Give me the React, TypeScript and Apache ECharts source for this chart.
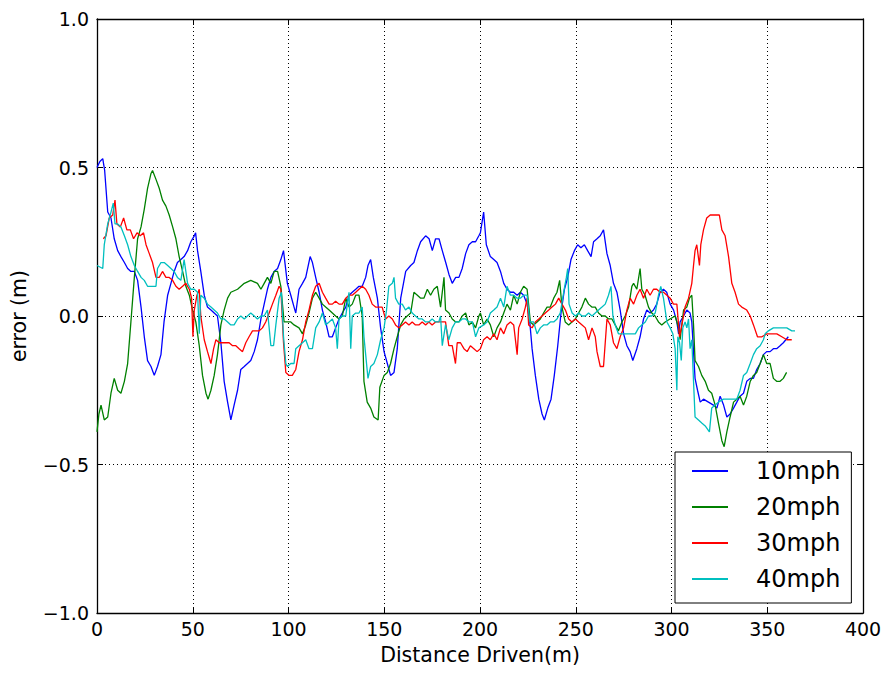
import React, { useEffect, useRef } from "react";
import * as echarts from "echarts";

const FONT = "'DejaVu Sans', sans-serif";

const xTicks = { min: 0, max: 400, interval: 50 };
const yTicks = { min: -1, max: 1, interval: 0.5 };
const seriesNames = ["10mph", "20mph", "30mph", "40mph"];
const seriesColors = ["#0000ff", "#008000", "#ff0000", "#00bfbf"];

const mph10: number[][] = [
  [0, 0.5], [1.5, 0.52], [3, 0.53], [4, 0.49], [5.6, 0.35], [7.3, 0.33], [9, 0.26], [10.8, 0.22], [12.5, 0.2], [14.3, 0.18],
  [16, 0.16], [17.7, 0.15], [19.5, 0.15], [21.2, 0.12], [23, 0.03], [24.7, -0.07], [26.4, -0.15], [28.2, -0.17], [29.9, -0.2],
  [31.6, -0.17], [33.4, -0.13], [35, -0.02], [36.9, 0.07], [38.6, 0.11], [40.3, 0.15], [42, 0.18], [43.8, 0.19], [45.5, 0.2],
  [47.3, 0.22], [49, 0.25], [50.8, 0.27], [51.5, 0.28], [52.5, 0.22], [54.2, 0.15], [56, 0.07], [57.7, 0.03], [59.5, 0.02],
  [61.2, 0.01], [62.9, 0], [64.7, -0.09], [66.4, -0.22], [68.2, -0.29], [69.9, -0.35], [71.6, -0.3], [73.4, -0.25], [75.1, -0.18],
  [76.9, -0.17], [78.6, -0.16], [80.3, -0.15], [82.1, -0.12], [83.8, -0.08], [85.6, -0.01], [87.3, 0.04], [89, 0.09], [90.8, 0.13],
  [92.5, 0.15], [94.3, 0.16], [96, 0.19], [97.4, 0.22], [99.4, 0.11], [101.2, 0.07], [102.9, 0.03], [103.8, 0.01], [105.5, 0.09],
  [107.3, 0.11], [109, 0.13], [111.3, 0.2], [112.5, 0.18], [114.2, 0.13], [116, 0.08], [117.7, 0.02], [119.4, -0.02], [121.2, -0.07],
  [122.9, -0.07], [124.6, -0.04], [126.4, -0.01], [128.1, 0.01], [129.9, 0.03], [131.6, 0.07], [133.3, 0.08], [135.1, 0.09],
  [136.8, 0.1], [138.5, 0.1], [140.3, 0.13], [141.5, 0.17], [142.9, 0.19], [144.3, 0.13], [146.4, 0.06], [148.1, -0.04],
  [149.9, -0.12], [151.6, -0.16], [153.3, -0.2], [155.1, -0.19], [156.8, -0.11], [158.6, 0.06], [161.2, 0.15], [163.8, 0.17],
  [165.5, 0.18], [167.3, 0.22], [169, 0.25], [171.6, 0.27], [173.4, 0.26], [175.1, 0.22], [176.8, 0.26], [178.6, 0.26],
  [180.3, 0.22], [182.1, 0.18], [183.8, 0.14], [185.5, 0.11], [187.3, 0.13], [189, 0.13], [190.7, 0.16], [192.5, 0.21],
  [194.2, 0.24], [196, 0.25], [197.7, 0.25], [199.4, 0.27], [200.2, 0.28], [201.9, 0.35], [203.3, 0.24], [205.4, 0.2],
  [207.2, 0.19], [208.9, 0.18], [210.7, 0.15], [212.4, 0.11], [214.1, 0.09], [215.9, 0.08], [217.6, 0.08], [219.4, 0.07],
  [221.1, 0.08], [222.8, 0.07], [224.6, 0.04], [226, -0.02], [227.2, -0.11], [228.9, -0.2], [230.7, -0.28], [232.4, -0.33],
  [233.6, -0.35], [235.4, -0.31], [237.1, -0.28], [238.8, -0.2], [240.6, -0.1], [242.3, 0.01], [244.1, 0.09], [245.8, 0.13],
  [247.5, 0.19], [249.3, 0.22], [251, 0.24], [252.7, 0.23], [254.5, 0.24], [256.2, 0.22], [258, 0.2], [259.3, 0.25], [261.1, 0.26],
  [262.8, 0.27], [264.5, 0.29], [266.3, 0.21], [268, 0.17], [269.7, 0.11], [271.5, 0.08], [273.2, 0.02], [275, -0.06],
  [276.7, -0.1], [278.4, -0.12], [279.8, -0.15], [281.9, -0.11], [283.6, -0.07], [285.4, -0.01], [287.1, 0.02], [288.8, 0.01],
  [290.6, 0.02], [292.3, 0.04], [294, 0.08], [295.8, 0.09], [297.5, 0.08], [299.3, 0.04], [301.1, 0.02], [302.8, -0.02],
  [303.7, -0.06], [304.5, -0.02], [306.3, 0], [308, 0.02], [309.7, 0.01], [310.6, -0.02], [311.5, -0.12], [312.3, -0.21],
  [313.6, -0.25], [315, -0.29], [316.7, -0.28], [319.3, -0.29], [321.9, -0.3], [323.7, -0.31], [325.4, -0.27], [327.2, -0.3],
  [328.9, -0.34], [330.6, -0.33], [332.4, -0.31], [334.1, -0.29], [335.8, -0.27], [337.6, -0.26], [339.3, -0.22], [341.1, -0.21],
  [342.8, -0.21], [344.5, -0.18], [346.3, -0.16], [348, -0.13], [349.7, -0.12], [351.5, -0.12], [353.2, -0.11], [354.9, -0.11],
  [356.7, -0.1], [358.4, -0.09], [361, -0.07],
];

const mph20: number[][] = [
  [0, -0.39], [1, -0.33], [2.1, -0.3], [3.8, -0.35], [5.6, -0.34], [7.3, -0.26], [9, -0.21], [10.8, -0.25], [12.5, -0.26],
  [14.3, -0.22], [16, -0.16], [17.7, -0.02], [19.5, 0.13], [21.2, 0.26], [23, 0.3], [24.7, 0.36], [26.4, 0.43], [28.2, 0.48],
  [29, 0.49], [30.8, 0.46], [32.5, 0.43], [34.2, 0.39], [36, 0.37], [37.7, 0.34], [39.5, 0.3], [41.2, 0.26], [42.9, 0.2],
  [44.7, 0.15], [46.4, 0.1], [48.2, 0.07], [49.9, 0.02], [51.6, -0.02], [53.4, -0.1], [55.1, -0.2], [56.9, -0.26], [58, -0.28],
  [59.5, -0.25], [61.2, -0.2], [62.9, -0.13], [64.7, -0.03], [66.4, 0.02], [68.2, 0.06], [69.9, 0.08], [73.4, 0.09], [76.9, 0.11],
  [80.3, 0.12], [83.8, 0.11], [85.6, 0.09], [87.3, 0.11], [89, 0.13], [90.8, 0.11], [92.5, 0.15], [94.3, 0.15], [96, 0.1],
  [97.7, -0.02], [99.4, -0.02], [101.2, -0.02], [102.9, -0.03], [105.5, -0.04], [107.3, -0.06], [109, -0.03], [110.7, 0.01],
  [112.5, 0.06], [114.2, 0.08], [116, 0.06], [117.7, 0.04], [119.4, 0.03], [121.2, 0.02], [122.9, 0.01], [124.6, 0],
  [126.4, -0.01], [128.1, 0], [129.9, 0.06], [131.6, 0.03], [133.3, 0.04], [135.1, 0.07], [136.8, 0.07], [138.5, 0],
  [139.4, -0.22], [141.1, -0.29], [142.9, -0.31], [144.6, -0.34], [146.8, -0.35], [147.7, -0.24], [149.9, -0.2], [151.6, -0.19],
  [153.3, -0.16], [155.1, -0.11], [156.8, -0.07], [158.6, -0.03], [160.3, -0.01], [162, 0], [163.8, 0.01], [165.5, 0.08],
  [167.3, 0.07], [169, 0.06], [170.7, 0.06], [172.5, 0.09], [174.2, 0.07], [175.9, 0.09], [177.7, 0.1], [179.4, 0.03],
  [181.2, 0.13], [182, 0.02], [183.8, 0.01], [185.5, -0.01], [187.3, -0.02], [189, -0.02], [190.7, 0], [192.5, 0.01],
  [194.2, -0.03], [196, -0.02], [197.7, -0.04], [199.4, 0], [200.2, 0.01], [201.9, -0.03], [203.7, -0.01], [205.4, -0.03],
  [207.2, -0.07], [208.9, -0.04], [210.7, -0.02], [212.4, 0.01], [214.1, 0.04], [215.9, 0.02], [217.6, 0.07], [219.4, 0.04],
  [221.1, 0.08], [222.8, 0.1], [224.6, 0.09], [226.3, -0.02], [228, -0.03], [229.8, -0.02], [231.5, -0.01], [233.2, 0.01],
  [235, 0.03], [236.7, 0.03], [238.5, 0.06], [240.2, 0.08], [241.6, 0.12], [242.8, 0.03], [244.5, -0.02], [246.3, -0.03],
  [248, -0.02], [249.8, -0.01], [251.5, 0.01], [253.2, 0.03], [255, 0.06], [256.7, 0.04], [258.4, 0.03], [260.2, 0.03],
  [261.9, 0.01], [263.7, 0], [265.4, 0], [267.1, -0.01], [268.9, -0.01], [270.6, -0.03], [272.3, -0.05], [274.1, -0.02],
  [275.8, 0], [277.6, 0.03], [279.3, 0.1], [280.2, 0.11], [281.9, 0.09], [283.6, 0.16], [284.5, 0.09], [286.2, 0.07], [288, 0.03],
  [289.7, 0.01], [291.4, 0], [293.2, -0.02], [294.9, -0.03], [296.7, -0.02], [299.2, -0.01], [301.9, 0], [303.7, -0.04],
  [304.5, -0.08], [306.3, 0.02], [308, 0.03], [309.4, 0.06], [310.6, 0.07], [311.5, -0.03], [312.3, -0.15], [314.1, -0.17],
  [315.8, -0.2], [317.6, -0.22], [319.3, -0.25], [321, -0.26], [322.8, -0.3], [324.5, -0.36], [326.3, -0.42], [327.5, -0.44],
  [328.9, -0.39], [330.6, -0.34], [332.4, -0.29], [334.1, -0.28], [335.8, -0.27], [337.6, -0.3], [339.3, -0.27], [341.1, -0.22],
  [342.8, -0.2], [344.5, -0.19], [346.3, -0.16], [348, -0.13], [349.7, -0.16], [351.5, -0.16], [353.2, -0.21], [354.9, -0.22],
  [356.7, -0.22], [358.4, -0.21], [360.1, -0.19],
];

const mph30: number[][] = [
  [3.3, 0.26], [4.7, 0.27], [6.4, 0.33], [8.2, 0.34], [9.4, 0.39], [10.4, 0.31], [12.2, 0.3], [13.9, 0.33], [15.6, 0.29],
  [17.4, 0.29], [19.1, 0.26], [20.9, 0.28], [22.6, 0.27], [24.3, 0.28], [25.6, 0.24], [27.3, 0.21], [29, 0.18], [30.8, 0.13],
  [32.5, 0.13], [34.2, 0.15], [36, 0.13], [37.7, 0.13], [39.5, 0.12], [41.2, 0.1], [42.9, 0.09], [44.7, 0.1], [46.4, 0.11],
  [48.2, 0.09], [49.4, 0.06], [50.1, -0.07], [50.8, 0.02], [52.2, 0.07], [53.4, 0.09], [54.2, 0], [56, -0.08], [57.7, -0.12],
  [59.5, -0.16], [60.9, -0.11], [62.1, -0.08], [63.8, -0.09], [65.6, -0.09], [67.3, -0.09], [69, -0.09], [70.8, -0.1],
  [72.5, -0.1], [74.2, -0.11], [76, -0.12], [77.7, -0.09], [79.4, -0.07], [81.2, -0.05], [82.9, -0.05], [84.7, -0.05],
  [86.4, -0.04], [88.1, -0.02], [89.9, 0.01], [91.6, 0.04], [93.4, 0.07], [95.1, 0.1], [96, 0.09], [97.4, -0.09], [98.6, -0.19],
  [100.3, -0.2], [102, -0.2], [103.8, -0.18], [105.5, -0.12], [107.3, -0.08], [109, -0.02], [110.7, 0.02], [112.5, 0.07],
  [114.2, 0.1], [116, 0.11], [117.7, 0.08], [119.4, 0.06], [121.2, 0.04], [122.9, 0.04], [124.6, 0.05], [126.4, 0.04],
  [128.1, 0.04], [129.9, 0.06], [131.6, 0.07], [133.3, 0.07], [135.1, 0.08], [136.8, 0.09], [138.5, 0.1], [140.3, 0.09],
  [142, 0.07], [143.7, 0.04], [145.5, 0.03], [147.2, 0.03], [148.9, 0.03], [150.7, -0.01], [152.4, 0], [154.2, -0.01],
  [155.9, -0.03], [157.6, -0.04], [159.4, -0.03], [161.1, -0.02], [162.9, -0.03], [164.6, -0.02], [166.3, -0.03], [168.1, -0.03],
  [169.8, -0.02], [171.6, -0.03], [173.3, -0.02], [175, -0.03], [176.8, -0.02], [178.5, -0.02], [180.3, -0.02], [182, -0.02],
  [183.7, -0.1], [185.5, -0.1], [187.2, -0.16], [188.1, -0.09], [189.8, -0.09], [191.6, -0.11], [193.3, -0.12], [195, -0.1],
  [196.8, -0.11], [198.5, -0.12], [200.2, -0.11], [201.9, -0.08], [203.7, -0.07], [205.4, -0.08], [207.2, -0.06], [208.9, -0.08],
  [210.7, -0.04], [212.4, -0.06], [214.1, -0.03], [215.9, -0.02], [217.6, -0.03], [219.4, -0.13], [220.2, -0.04], [222, -0.01],
  [223.7, 0.03], [224.6, 0.06], [225.4, -0.03], [227.2, -0.04], [228.9, -0.02], [230.7, -0.01], [232.4, 0], [234.1, 0.01],
  [235.9, 0.02], [237.6, 0.03], [239.4, 0.04], [241.1, 0.06], [242.8, 0.04], [244.6, 0.02], [246.3, -0.01], [248, -0.02],
  [249.8, -0.01], [251.5, -0.02], [253.3, -0.03], [255, -0.04], [256.7, -0.08], [258.5, -0.04], [260.2, -0.07], [261.1, -0.12],
  [262.8, -0.17], [264.5, -0.17], [266.3, -0.01], [268, -0.03], [269.7, -0.09], [271.5, -0.11], [273.2, -0.07], [275, -0.04],
  [276.7, 0.02], [278.4, 0.06], [280.2, 0.04], [281.9, 0.07], [283.6, 0.09], [285.4, 0.06], [287.1, 0.09], [288.8, 0.07],
  [290.6, 0.09], [292.3, 0.09], [294, 0.08], [295.8, 0.08], [297.6, 0.07], [299.3, 0.06], [301, 0.04], [302.8, 0.04],
  [304.2, -0.07], [305.4, -0.03], [307.1, 0.03], [308.9, 0.06], [310.6, 0.11], [311.5, 0.17], [312.3, 0.22], [313.2, 0.24],
  [314.6, 0.17], [315.3, 0.24], [316.7, 0.29], [318.4, 0.33], [320.2, 0.34], [321.9, 0.34], [323.7, 0.34], [325, 0.34],
  [326.3, 0.29], [328, 0.27], [329.8, 0.2], [331.5, 0.11], [333.2, 0.08], [335, 0.04], [336.7, 0.03], [339.3, 0.02], [341.1, 0],
  [342.8, -0.03], [344.9, -0.07], [347.2, -0.07], [349.8, -0.06], [352.4, -0.06], [355, -0.06], [357.6, -0.07], [360.2, -0.08],
  [362.8, -0.08],
];

const mph40: number[][] = [
  [0, 0.17], [3, 0.16], [3.8, 0.24], [5.6, 0.31], [7.3, 0.35], [8.5, 0.38], [9.4, 0.31], [10.8, 0.31], [12.5, 0.3], [14.3, 0.27],
  [16, 0.24], [17.7, 0.2], [19.5, 0.17], [21.2, 0.15], [23, 0.13], [24.7, 0.12], [26.4, 0.1], [28.2, 0.1], [30.8, 0.1],
  [31.6, 0.16], [33.4, 0.18], [35.1, 0.18], [36.9, 0.17], [38.6, 0.16], [40.3, 0.15], [42, 0.13], [43.8, 0.12], [45.5, 0.19],
  [47.3, 0.11], [49, 0.09], [50.8, 0.09], [52.5, 0.08], [53.4, -0.06], [54.2, 0.07], [56, 0.06], [57.7, 0.04], [59.5, 0.03],
  [61.2, 0.02], [62.9, 0.01], [64.7, -0.01], [66.4, -0.01], [68.2, -0.02], [69.9, -0.03], [71.6, -0.03], [73.4, -0.01],
  [75.1, 0], [76.9, -0.01], [78.6, 0], [80.3, 0.01], [82.1, 0], [83.8, -0.01], [85.6, 0], [87.3, 0], [89, 0.02], [90.8, -0.1],
  [92.2, -0.1], [93.4, -0.03], [95.1, 0.06], [96.3, 0.08], [97.4, -0.07], [98.6, -0.16], [99.4, -0.17], [101.2, -0.16],
  [102.9, -0.16], [103.8, -0.11], [105.5, -0.1], [107.3, -0.09], [109, -0.08], [110.7, -0.11], [112.5, -0.11], [114.2, -0.04],
  [116, -0.02], [117.7, 0.01], [119.4, -0.03], [121.2, -0.02], [122.9, -0.01], [124.6, -0.04], [125.5, -0.11], [126.4, -0.01],
  [128.1, 0], [129.9, 0], [131.6, 0.08], [132.5, -0.11], [133.3, 0], [135.1, 0.01], [136.8, 0.01], [138.5, 0.03], [139.4, -0.07],
  [140.3, -0.13], [141.5, -0.21], [142.9, -0.17], [144.6, -0.16], [146.4, -0.13], [148.1, -0.08], [149.9, -0.04], [151.2, 0.02],
  [152.4, 0.1], [154.2, 0.11], [155.1, 0.13], [155.9, 0.06], [157.6, 0.04], [159.4, 0.04], [161.1, 0.02], [162.9, 0.03],
  [164.6, 0.01], [166.3, 0], [168.1, -0.01], [169.8, -0.01], [171.6, -0.02], [173.3, -0.02], [175, -0.01], [176.8, -0.02],
  [178.5, -0.02], [179.4, 0], [180.3, -0.1], [182, -0.03], [183.7, -0.08], [185.5, -0.04], [187.2, -0.02], [189, -0.02],
  [190.7, -0.01], [192.5, -0.01], [194.2, -0.02], [196, -0.02], [197.7, -0.07], [199.4, -0.04], [201.9, -0.03], [203.7, -0.02],
  [205.4, 0.01], [207.2, 0.02], [208.9, 0.03], [210.7, 0.06], [212.4, 0.03], [214.1, 0.1], [215.9, 0.07], [217.6, 0.07],
  [219.4, 0.06], [221.1, 0.06], [222.8, 0.07], [224.6, 0.07], [226, -0.02], [228, -0.02], [229.8, -0.06], [231.5, -0.04],
  [233.2, -0.03], [235, -0.03], [236.7, -0.02], [238.5, -0.02], [240.2, -0.01], [241.9, 0.01], [243.7, 0.08], [245.1, 0.13],
  [245.8, 0.16], [246.5, 0.04], [248.1, 0.01], [249.8, 0], [251.5, 0.01], [253.3, 0], [255, 0], [256.7, 0.01], [258.5, 0],
  [260.2, 0.01], [261.9, 0.02], [263.7, 0.03], [265.4, 0.04], [267.1, 0.07], [268.4, 0.1], [269.4, 0], [270.6, -0.03],
  [272.3, -0.06], [274.1, -0.06], [275.8, -0.06], [277.6, -0.06], [279.3, -0.06], [281.1, -0.06], [282.8, -0.04], [284.5, -0.03],
  [286.3, -0.02], [288, 0], [289.7, 0], [291.5, 0.01], [293.2, 0.07], [294.4, 0.1], [295.8, 0.06], [297.6, -0.02], [299.3, -0.04],
  [300.7, -0.06], [301.9, -0.11], [302.8, -0.25], [303.3, -0.07], [304.2, -0.09], [305.1, -0.15], [305.9, -0.04], [307.1, -0.02],
  [308, -0.04], [308.9, -0.01], [309.7, -0.11], [310.6, -0.08], [311.5, -0.22], [312.3, -0.34], [314.1, -0.35], [315.8, -0.36],
  [317.6, -0.37], [319.8, -0.39], [321, -0.31], [322.8, -0.3], [324.5, -0.29], [327.1, -0.28], [330.6, -0.28], [334.1, -0.28],
  [335.8, -0.25], [337.6, -0.2], [339.3, -0.19], [341.1, -0.16], [342.8, -0.13], [344.5, -0.11], [346.3, -0.1], [348, -0.08],
  [348.9, -0.06], [350.6, -0.05], [353.2, -0.04], [356.7, -0.04], [360.2, -0.04], [362.8, -0.05], [364.5, -0.05],
];

const allSeries = [mph10, mph20, mph30, mph40];

const fmtY = (v: number) => v.toFixed(1).replace("-", "\u2212");

export default function App() {
  const ref = useRef<HTMLDivElement>(null);
  useEffect(() => {
    if (!ref.current) return;
    const chart = echarts.init(ref.current, undefined, { renderer: "svg" });
    const axisLine = { show: true, onZero: false, lineStyle: { color: "#000", width: 1.3 } };
    const tick = { show: true, inside: true, length: 6, lineStyle: { color: "#000", width: 1 } };
    const split = { show: true, lineStyle: { color: "#000", type: [1, 3] as any, width: 1 } };
    const labelStyle = { color: "#000", fontSize: 19, fontFamily: FONT };
    chart.setOption({
      animation: false,
      backgroundColor: "#fff",
      grid: { left: 96, top: 19, right: 23, bottom: 62, containLabel: false },
      xAxis: [
        {
          type: "value", ...xTicks, position: "bottom",
          axisLine, axisTick: tick, splitLine: split,
          axisLabel: { ...labelStyle, margin: 6 },
          name: "Distance Driven(m)", nameLocation: "middle", nameGap: 31,
          nameTextStyle: { color: "#000", fontSize: 20.5, fontFamily: FONT },
        },
        {
          type: "value", ...xTicks, position: "top",
          axisLine, axisTick: tick, splitLine: { show: false }, axisLabel: { show: false },
        },
      ],
      yAxis: [
        {
          type: "value", ...yTicks, position: "left",
          axisLine, axisTick: tick, splitLine: split,
          axisLabel: { ...labelStyle, margin: 8, formatter: fmtY },
          name: "error (m)", nameLocation: "middle", nameGap: 68, nameRotate: 90,
          nameTextStyle: { color: "#000", fontSize: 20.5, fontFamily: FONT },
        },
        {
          type: "value", ...yTicks, position: "right",
          axisLine, axisTick: tick, splitLine: { show: false }, axisLabel: { show: false },
        },
      ],
      legend: {
        show: true, orient: "vertical", left: 675, top: 452,
        data: seriesNames.map((n) => ({ name: n, icon: "rect" })),
        selectedMode: false,
        itemWidth: 36, itemHeight: 2, itemGap: 12,
        padding: [7, 11, 12, 17],
        borderColor: "#000", borderWidth: 1, backgroundColor: "#fff", borderRadius: 0,
        textStyle: { color: "#000", fontSize: 24, fontFamily: FONT, padding: [0, 0, 0, 23] },
      },
      series: allSeries.map((d, i) => ({
        type: "line", name: seriesNames[i], data: d,
        xAxisIndex: 0, yAxisIndex: 0,
        symbol: "none", showSymbol: false,
        lineStyle: { color: seriesColors[i], width: 1.3 },
        itemStyle: { color: seriesColors[i] },
        emphasis: { disabled: true },
        z: 2 + i,
      })),
    });
    return () => chart.dispose();
  }, []);
  return (
    <div
      ref={ref}
      style={{ position: "absolute", left: 0, top: 0, width: 886, height: 675 }}
    />
  );
}
